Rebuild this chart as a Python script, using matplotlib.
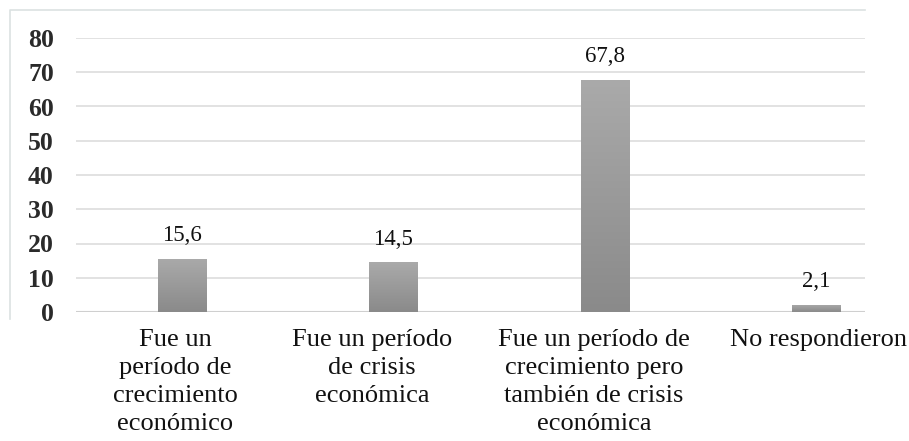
import numpy as np
import matplotlib
matplotlib.use("Agg")
import matplotlib.pyplot as plt
from matplotlib.lines import Line2D

# datos
categorias = [
    "Fue un\nperíodo de\ncrecimiento\neconómico",
    "Fue un período\nde crisis\neconómica",
    "Fue un período de\ncrecimiento pero\ntambién de crisis\neconómica",
    "No respondieron",
]
valores = [15.6, 14.5, 67.8, 2.1]
etiquetas = ["15,6", "14,5", "67,8", "2,1"]
yticks = [0, 10, 20, 30, 40, 50, 60, 70, 80]

W, H = 909, 441
fig = plt.figure(figsize=(W / 100, H / 100), dpi=100)
fig.patch.set_facecolor("white")

# area del grafico (pixeles -> fraccion)
ax = fig.add_axes([76 / W, (H - 312) / H, 789 / W, 274 / H])

x = np.arange(len(valores))
bars = ax.bar(x, valores, width=0.227, color="#9c9c9c", zorder=2)

# degradado vertical en cada barra
cmap = matplotlib.colors.LinearSegmentedColormap.from_list("g", ["#8a8a8a", "#aaaaaa"])
grad = np.linspace(0, 1, 256).reshape(-1, 1)
for b in bars:
    x0, w, h = b.get_x(), b.get_width(), b.get_height()
    im = ax.imshow(grad, extent=[x0, x0 + w, 0, h], origin="lower",
                   cmap=cmap, aspect="auto", zorder=3)
    im.set_clip_path(b)
ax.set_xlim(-0.501, 3.23)
ax.set_ylim(0, 80)

serif = "Liberation Serif"
for xi, v, t in zip(x, valores, etiquetas):
    ax.annotate(t, (xi, v), xytext=(0, 9), textcoords="offset points",
                ha="center", va="bottom", fontsize=16.5, family=serif,
                color="#111111", zorder=4)

ax.set_yticks(yticks)
ax.set_yticklabels([str(t) for t in yticks], family=serif,
                   fontweight="bold", fontsize=18.5, color="#2a2a2a")
ax.tick_params(axis="y", length=0, pad=16)
ax.set_xticks([])
ax.grid(axis="y", color="#dadada", linewidth=1.1, zorder=0)
ax.set_axisbelow(True)
for s in ax.spines.values():
    s.set_visible(False)
ax.axhline(0, color="#cfcfcf", linewidth=1.5, zorder=1)

# etiquetas de categoria (pegadas debajo, no alineadas del todo)
label_x = [175, 372, 594, 818]
for lx, c in zip(label_x, categorias):
    fig.text(lx / W, 1 - 329 / H, c, ha="center", va="top",
             fontsize=19, family=serif, color="#111111", linespacing=1.36,
             multialignment="center")

# marco claro del grafico
fig.add_artist(Line2D([10 / W, 10 / W, 865 / W],
                      [1 - 319 / H, 1 - 10 / H, 1 - 10 / H],
                      transform=fig.transFigure, color="#dbe2e2", linewidth=1.2))

fig.savefig("out.png", dpi=100)
